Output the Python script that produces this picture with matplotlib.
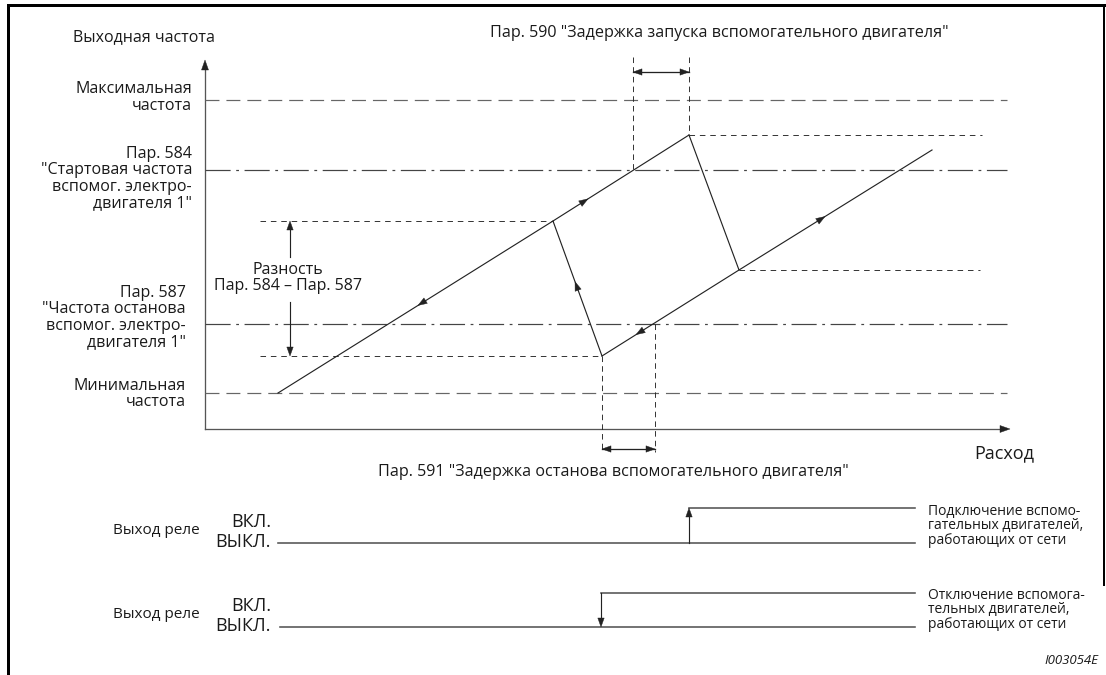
import numpy as np
import matplotlib.pyplot as plt
from matplotlib.patches import Polygon

plt.rcParams['font.family'] = ['Open Sans', 'DejaVu Sans']

# --- diagram data (pixel space of the original drawing) ---
# frequency levels
y_max_freq = 100
y_start = 170      # Пар. 584
y_stop = 324       # Пар. 587
y_min_freq = 393
y_diff_top = 221
y_diff_bot = 356

# ramp curves
ramp_a_x = [278, 553, 689]
ramp_a_y = [393, 221, 135]
ramp_b_x = [602, 739, 932]
ramp_b_y = [356, 270, 150]
switch_on_x = [689, 739]
switch_on_y = [135, 270]
switch_off_x = [553, 602]
switch_off_y = [221, 356]

# delay markers
delay_on_x = [633, 689]
delay_off_x = [602, 655]

# relay outputs
relay_low_y = [543, 627]
relay_high_y = [508, 593]
relay_step_x = [689, 601]
relay_start_x = [278, 280]
relay_end_x = 915

axis_x0, axis_y0 = 205, 429
axis_xmax, axis_ymin = 1010, 60
grid_x1 = 1007

INK = '#222222'
GREY = '#555555'
PX = 0.72  # one pixel in points


def head(ax, tip, frm, L=9, W=3.2, color=INK):
    tip = np.array(tip, float)
    d = tip - np.array(frm, float)
    u = d / np.hypot(*d)
    n = np.array([-u[1], u[0]])
    base = tip - L * u
    ax.add_patch(Polygon([tip, base + W * n, base - W * n], closed=True,
                         facecolor=color, edgecolor=color, lw=0.3, zorder=5))


def on_line(xs, ys, x):
    return np.interp(x, xs, ys) if xs[0] < xs[-1] else np.interp(x, xs[::-1], ys[::-1])


fig = plt.figure(figsize=(11.06, 6.75), dpi=100)
ax = fig.add_axes([0, 0, 1, 1])
ax.set_xlim(0, 1106)
ax.set_ylim(675, 0)
ax.axis('off')

# frame
ax.plot([8, 1104], [5, 5], color='black', lw=3 * PX)
ax.plot([8, 8], [5, 675], color='black', lw=3 * PX)
ax.plot([1104, 1104], [5, 585], color='black', lw=2 * PX)

# axes
ax.plot([axis_x0, axis_x0], [axis_y0, axis_ymin + 8], color=GREY, lw=1.3 * PX)
head(ax, (axis_x0, axis_ymin), (axis_x0, axis_y0), L=10, W=3.5)
ax.plot([axis_x0, axis_xmax - 8], [axis_y0, axis_y0], color=GREY, lw=1.3 * PX)
head(ax, (axis_xmax, axis_y0), (axis_x0, axis_y0), L=10, W=3.5)

# level lines
for y in (y_max_freq, y_min_freq):
    ax.plot([axis_x0, grid_x1], [y, y], color='#666666', lw=1.2 * PX,
            dashes=(10 / 0.86, 5 / 0.86))
for y in (y_start, y_stop):
    ax.plot([axis_x0, grid_x1], [y, y], color='#444444', lw=1.2 * PX,
            dashes=(18 / 0.86, 4 / 0.86, 2 / 0.86, 4 / 0.86))

dot = dict(color=INK, lw=0.9 * PX, dashes=(4 / 0.65, 3.5 / 0.65))
ax.plot([260, switch_off_x[0]], [y_diff_top, y_diff_top], **dot)
ax.plot([260, switch_off_x[1]], [y_diff_bot, y_diff_bot], **dot)
ax.plot([switch_on_x[0], 982], [switch_on_y[0]] * 2, **dot)
ax.plot([switch_on_x[1], 980], [switch_on_y[1]] * 2, **dot)

# ramps
lw_line = 1.15 * PX
ax.plot(ramp_a_x, ramp_a_y, color=INK, lw=lw_line)
ax.plot(ramp_b_x, ramp_b_y, color=INK, lw=lw_line)
ax.plot(switch_on_x, switch_on_y, color=INK, lw=lw_line)
ax.plot(switch_off_x, switch_off_y, color=INK, lw=lw_line)

# direction arrows on ramps
a0, a1 = (ramp_a_x[0], ramp_a_y[0]), (ramp_a_x[-1], ramp_a_y[-1])
b0, b1 = (ramp_b_x[0], ramp_b_y[0]), (ramp_b_x[-1], ramp_b_y[-1])
x = 588
head(ax, (x, on_line(ramp_a_x, ramp_a_y, x)), a0)
x = 418
head(ax, (x, on_line(ramp_a_x, ramp_a_y, x)), a1)
x = 825
head(ax, (x, on_line(ramp_b_x, ramp_b_y, x)), b0)
x = 636
head(ax, (x, on_line(ramp_b_x, ramp_b_y, x)), b1)
t = 0.55
head(ax, (switch_off_x[1] + t * (switch_off_x[0] - switch_off_x[1]),
          switch_off_y[1] + t * (switch_off_y[0] - switch_off_y[1])),
     (switch_off_x[1], switch_off_y[1]))

# Разность arrows
ax.plot([290, 290], [257, y_diff_top + 8], color=INK, lw=lw_line)
head(ax, (290, y_diff_top), (290, 257))
ax.plot([290, 290], [302, y_diff_bot - 8], color=INK, lw=lw_line)
head(ax, (290, y_diff_bot), (290, 302))

# delay markers
vdash = dict(color=INK, lw=0.9 * PX, dashes=(4 / 0.65, 3 / 0.65))
ax.plot([delay_on_x[0]] * 2, [57, y_start], **vdash)
ax.plot([delay_on_x[1]] * 2, [57, switch_on_y[0]], **vdash)
ax.plot(delay_on_x, [72, 72], color=INK, lw=1.3 * PX)
head(ax, (delay_on_x[0], 72), (delay_on_x[1], 72))
head(ax, (delay_on_x[1], 72), (delay_on_x[0], 72))

ax.plot([delay_off_x[0]] * 2, [y_diff_bot, 452], **vdash)
ax.plot([delay_off_x[1]] * 2, [y_stop, 452], **vdash)
ax.plot(delay_off_x, [449, 449], color=INK, lw=1.3 * PX)
head(ax, (delay_off_x[0], 449), (delay_off_x[1], 449))
head(ax, (delay_off_x[1], 449), (delay_off_x[0], 449))

# relay outputs
rl = dict(color=GREY, lw=1.6 * PX)
for i in range(2):
    ax.plot([relay_start_x[i], relay_end_x], [relay_low_y[i]] * 2, **rl)
    ax.plot([relay_step_x[i], relay_end_x], [relay_high_y[i]] * 2, **rl)
# on: arrow up
ax.plot([relay_step_x[0]] * 2, [relay_low_y[0], relay_high_y[0] + 8], color=INK, lw=lw_line)
head(ax, (relay_step_x[0], relay_high_y[0]), (relay_step_x[0], relay_low_y[0]))
# off: arrow down
ax.plot([relay_step_x[1]] * 2, [relay_high_y[1], relay_low_y[1] - 8], color=INK, lw=lw_line)
head(ax, (relay_step_x[1], relay_low_y[1]), (relay_step_x[1], relay_high_y[1]))

# --- texts ---
TXT = '#1a1a1a'
big = 11.6
lab = 11.5
ax.text(73, 37, 'Выходная частота', fontsize=lab, color=TXT, ha='left', va='center')
ax.text(192, 97.5, 'Максимальная\nчастота', fontsize=lab, color=TXT,
        ha='right', va='center', linespacing=1.05)
ax.text(192, 178.5, 'Пар. 584\n"Стартовая частота\nвспомог. электро-\nдвигателя 1"',
        fontsize=lab, color=TXT, ha='right', va='center', linespacing=1.05)
ax.text(186, 317.5, 'Пар. 587\n"Частота останова\nвспомог. электро-\nдвигателя 1"',
        fontsize=lab, color=TXT, ha='right', va='center', linespacing=1.05)
ax.text(186, 394, 'Минимальная\nчастота', fontsize=lab, color=TXT,
        ha='right', va='center', linespacing=1.05)
ax.text(288, 278, 'Разность\nПар. 584 – Пар. 587', fontsize=lab, color=TXT,
        ha='center', va='center', linespacing=1.05)
ax.text(490, 33, 'Пар. 590 "Задержка запуска вспомогательного двигателя"',
        fontsize=big, color=TXT, ha='left', va='center')
ax.text(378, 472, 'Пар. 591 "Задержка останова вспомогательного двигателя"',
        fontsize=big, color=TXT, ha='left', va='center')
ax.text(974, 453, 'Расход', fontsize=13, color=TXT, ha='left', va='center')

relay_notes = ['Подключение вспомо-\nгательных двигателей,\nработающих от сети',
               'Отключение вспомога-\nтельных двигателей,\nработающих от сети']
for i in range(2):
    ax.text(113, relay_low_y[i] - 13, 'Выход реле', fontsize=11, color=TXT,
            ha='left', va='center')
    ax.text(271, relay_low_y[i] - 21, 'ВКЛ.', fontsize=13, color=TXT,
            ha='right', va='center')
    ax.text(271, relay_low_y[i] - 1, 'ВЫКЛ.', fontsize=13, color=TXT,
            ha='right', va='center')
    ax.text(928, relay_low_y[i] - 17, relay_notes[i], fontsize=10, color=TXT,
            ha='left', va='center', linespacing=0.95)

ax.text(1098, 660, 'I003054E', fontsize=9.5, color=TXT, style='italic',
        ha='right', va='center')

fig.savefig('out.png', dpi=100)
